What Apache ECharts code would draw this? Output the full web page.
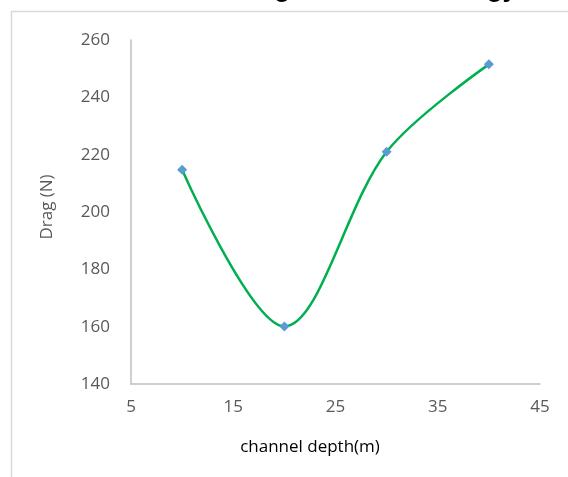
<!DOCTYPE html>
<html>
<head>
<meta charset="utf-8">
<script src="https://cdn.jsdelivr.net/npm/echarts@6/dist/echarts.min.js"></script>
<style>
  html, body { margin: 0; padding: 0; background: #fff; }
  #chart { width: 568px; height: 477px; }
</style>
</head>
<body>
<div id="chart"></div>
<script>
// Channel depth (m) against drag force (N)
const depths = [10, 20, 30, 40];
const drag = [214.7, 160.1, 221.0, 251.5];
const xTicks = [5, 15, 25, 35, 45];
const yTicks = [140, 160, 180, 200, 220, 240, 260];

const chart = echarts.init(document.getElementById('chart'), null, { renderer: 'canvas' });
const labelFont = '"Open Sans", "Liberation Sans", sans-serif';

chart.setOption({
  animation: false,
  backgroundColor: '#ffffff',
  grid: { left: 131, top: 40, right: 28, bottom: 93 },
  graphic: [
    {
      type: 'rect',
      shape: { x: 11.5, y: 11.5, width: 620, height: 520 },
      style: { fill: 'none', stroke: '#d9d9d9', lineWidth: 1.5 },
      silent: true
    },
    {
      type: 'text',
      x: 231, y: 3,
      style: {
        text: 'Drag Force and Energy',
        font: 'bold 26px "Liberation Sans", sans-serif',
        fill: '#000000',
        verticalAlign: 'bottom',
        align: 'left'
      },
      silent: true
    },
    {
      type: 'text',
      x: 310, y: 447,
      style: {
        text: 'channel depth(m)',
        font: '17px ' + labelFont,
        fill: '#000000',
        align: 'center',
        verticalAlign: 'middle'
      },
      silent: true
    },
    {
      type: 'text',
      x: 47, y: 207,
      rotation: Math.PI / 2,
      style: {
        text: 'Drag (N)',
        font: '17px ' + labelFont,
        fill: '#595959',
        align: 'center',
        verticalAlign: 'middle'
      },
      silent: true
    }
  ],
  xAxis: {
    type: 'value',
    min: xTicks[0],
    max: xTicks[xTicks.length - 1],
    interval: 10,
    axisLine: { lineStyle: { color: '#bfbfbf', width: 1.5 } },
    axisTick: { show: false },
    splitLine: { show: false },
    axisLabel: { color: '#595959', fontSize: 17, fontFamily: labelFont, margin: 15 }
  },
  yAxis: {
    type: 'value',
    min: yTicks[0],
    max: yTicks[yTicks.length - 1],
    interval: 20,
    axisLine: { show: true, lineStyle: { color: '#bfbfbf', width: 1.5 } },
    axisTick: { show: false },
    splitLine: { show: false },
    axisLabel: { color: '#595959', fontSize: 17, fontFamily: labelFont, margin: 21 }
  },
  series: [{
    type: 'line',
    data: depths.map((d, i) => [d, drag[i]]),
    smooth: 0.33,
    symbol: 'diamond',
    symbolSize: 10,
    lineStyle: { color: '#00b050', width: 2.5 },
    itemStyle: { color: '#5b9bd5' },
    z: 3
  }]
});
</script>
</body>
</html>
